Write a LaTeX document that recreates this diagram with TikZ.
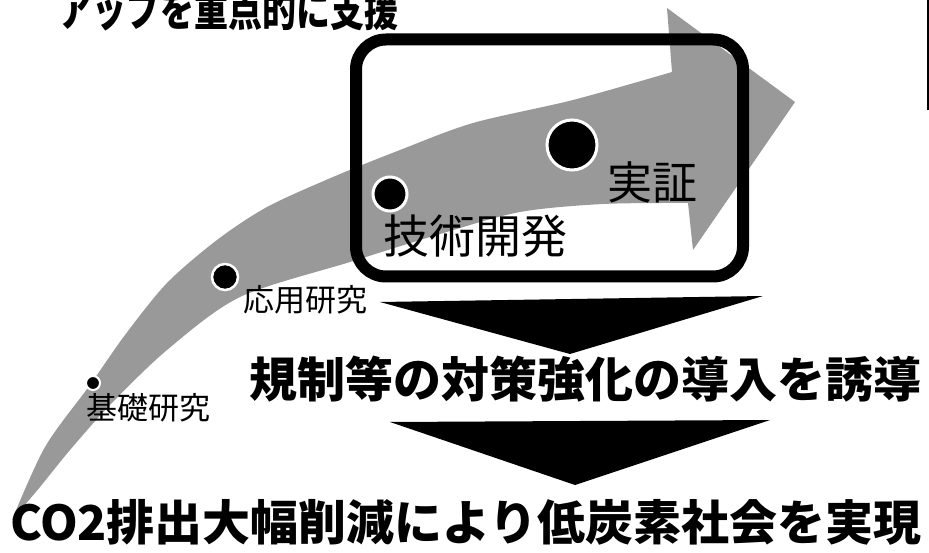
\documentclass[tikz,border=0pt]{standalone}
\usepackage{fontspec}
\newfontfamily\jp{Noto Sans CJK JP}
\begin{document}
\begin{tikzpicture}[x=1pt,y=-1pt]
\tikzset{
  band/.style={fill=black!40},
  bigdot/.style={circle,fill=black,draw=white,inner sep=0pt},
  frame/.style={draw=black,line width=12pt,rounded corners=30pt,inner sep=0pt},
  funnel/.style={fill=black},
  lbl/.style={inner sep=0pt,text=black},
  heavy/.style={inner sep=0pt,text=black,font=\jp\bfseries\fontsize{48}{50}\selectfont},
}
\useasboundingbox (0,0) rectangle (929,553);
\clip (0,0) rectangle (929,553);
\fill[white] (0,0) rectangle (929,553);

% title (cut at the top)
\node[inner sep=0pt,text=black,font=\jp\bfseries\fontsize{34}{36}\selectfont,anchor=base west] (title) at (58,27) {\scalebox{1}[1.3]{アップを重点的に支援}};

% curved arrow
\fill[band] plot[smooth] coordinates {(12,520) (45,447) (90,385) (125,335) (167,283) (217,240) (267,207) (333,177) (400,150) (473,123) (573,100) (672,72)}
  -- (667,8) -- (795,102) -- (693,250) -- (688,203)
  -- plot[smooth] coordinates {(688,203) (603,204) (520,212) (440,234) (350,262) (240,297) (167,350) (110,405) (70,450) (40,487) (12,520)} -- cycle;

% frame
\node[frame,minimum width=387pt,minimum height=237pt] (box) at (549.5,158) {};

% dots
\node[bigdot,line width=3pt,minimum size=50pt] (d4) at (572,145) {};
\node[bigdot,line width=3pt,minimum size=34pt] (d3) at (390,194) {};
\node[bigdot,line width=2.5pt,minimum size=26pt] (d2) at (225,277) {};
\node[bigdot,line width=2pt,minimum size=14pt] (d1) at (93,383) {};

% labels
\node[lbl,font=\jp\fontsize{46}{48}\selectfont] (l3) at (475,236) {技術開発};
\node[lbl,font=\jp\fontsize{45}{47}\selectfont] (l4) at (652,182) {実証};
\node[lbl,font=\jp\fontsize{31}{33}\selectfont] (l2) at (305,300) {応用研究};
\node[lbl,font=\jp\fontsize{31}{33}\selectfont] (l1) at (148,408) {基礎研究};

% funnels
\fill[funnel] (380,302) -- (763,296) -- (570,354) -- cycle;
\node[heavy] (mid) at (585,379) {規制等の対策強化の導入を誘導};
\fill[funnel] (390,422) -- (770,420) -- (575,485) -- cycle;

% bottom
\node[heavy] (bottom) at (466,522) {CO2排出大幅削減により低炭素社会を実現};

% right edge line
\draw[line width=1.2pt] (928,0) -- (928,110);
\end{tikzpicture}
\end{document}
